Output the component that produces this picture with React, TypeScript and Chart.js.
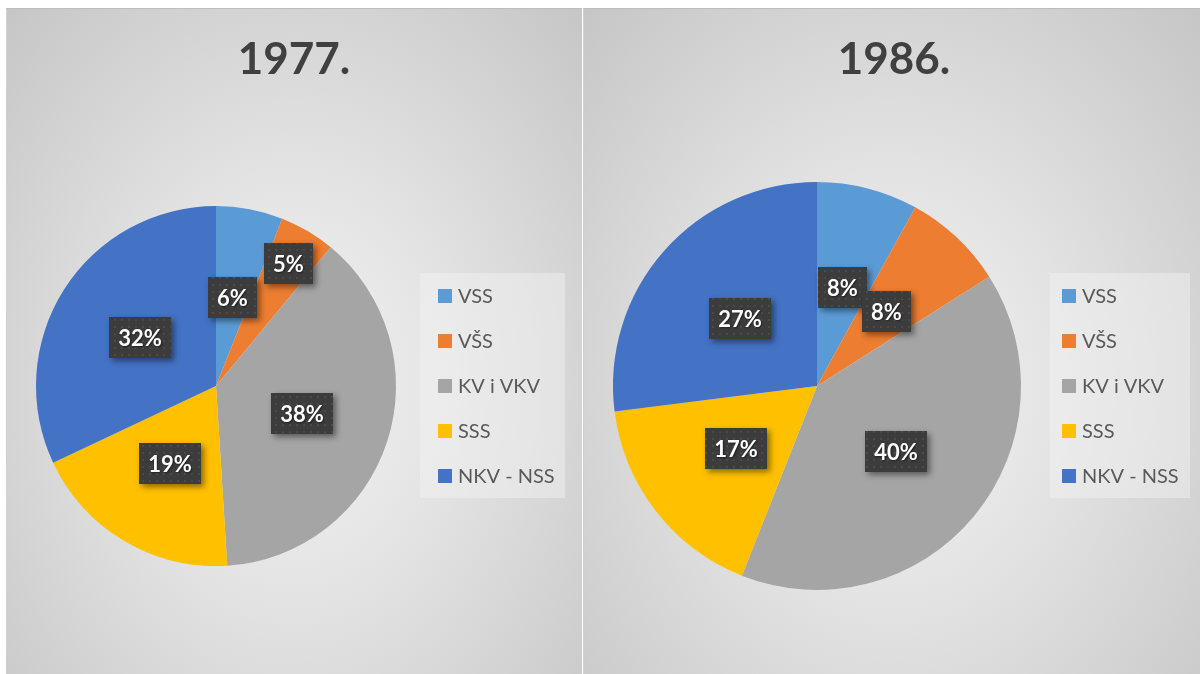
import React, { useEffect, useRef, useState } from "react";
import { Chart, registerables } from "chart.js";

Chart.register(...registerables);

// ---- data ----
const categories = ["VSS", "VŠS", "KV i VKV", "SSS", "NKV - NSS"];
const values1977 = [6, 5, 38, 19, 32];
const values1986 = [8, 8, 40, 17, 27];
const titles = ["1977.", "1986."];
const sliceColors = ["#5B9BD5", "#ED7D31", "#A5A5A5", "#FFC000", "#4472C4"];

const FONT = "Lato, 'Open Sans', sans-serif";

function makePattern(ctx: CanvasRenderingContext2D) {
  const c = document.createElement("canvas");
  c.width = 7;
  c.height = 7;
  const p = c.getContext("2d");
  if (!p) return null;
  p.fillStyle = "#3c3c3c";
  p.fillRect(0, 0, 7, 7);
  p.fillStyle = "#4a4a4a";
  p.fillRect(3, 3, 2, 2);
  return ctx.createPattern(c, "repeat");
}

type Cfg = {
  title: string;
  titleX: number;
  titleY: number;
  legend: { x: number; y: number; w: number; h: number; boxX: number; firstY: number; step: number };
  labelRadius: number[];
};

function makeDecorPlugin(cfg: Cfg) {
  return {
    id: "decor",
    afterDatasetsDraw(chart: any) {
      const ctx: CanvasRenderingContext2D = chart.ctx;
      ctx.save();
      // title
      ctx.font = `bold 44px ${FONT}`;
      ctx.fillStyle = "#404040";
      ctx.textAlign = "center";
      ctx.textBaseline = "alphabetic";
      ctx.fillText(cfg.title, cfg.titleX, cfg.titleY);

      // legend
      const lg = cfg.legend;
      ctx.fillStyle = "rgba(244,244,244,0.45)";
      ctx.fillRect(lg.x, lg.y, lg.w, lg.h);
      const labels: string[] = chart.data.labels;
      const bg: string[] = chart.data.datasets[0].backgroundColor;
      ctx.font = `20px ${FONT}`;
      ctx.textAlign = "left";
      ctx.textBaseline = "middle";
      labels.forEach((lab, i) => {
        const cy = lg.firstY + i * lg.step;
        ctx.fillStyle = bg[i];
        ctx.fillRect(lg.boxX, cy - 7, 14, 14);
        ctx.fillStyle = "#595959";
        ctx.fillText(lab, lg.boxX + 20, cy + 1);
      });

      // data labels
      const pattern = makePattern(ctx);
      const meta = chart.getDatasetMeta(0);
      const data: number[] = chart.data.datasets[0].data;
      ctx.font = `bold 22px ${FONT}`;
      ctx.textAlign = "center";
      meta.data.forEach((arc: any, i: number) => {
        const p = arc.getProps(["x", "y", "startAngle", "endAngle", "outerRadius"], true);
        const mid = (p.startAngle + p.endAngle) / 2;
        const f = cfg.labelRadius[i];
        const cx = p.x + Math.cos(mid) * p.outerRadius * f;
        const cy = p.y + Math.sin(mid) * p.outerRadius * f;
        const text = `${data[i]}%`;
        const w = Math.round(ctx.measureText(text).width + 18);
        const h = 41;
        const bx = Math.round(cx - w / 2);
        const by = Math.round(cy - h / 2);
        ctx.save();
        ctx.shadowColor = "rgba(0,0,0,0.45)";
        ctx.shadowBlur = 6;
        ctx.shadowOffsetX = 3;
        ctx.shadowOffsetY = 3;
        ctx.fillStyle = "#3c3c3c";
        ctx.fillRect(bx, by, w, h);
        ctx.restore();
        if (pattern) {
          ctx.fillStyle = pattern;
          ctx.fillRect(bx, by, w, h);
        }
        ctx.save();
        ctx.shadowColor = "rgba(0,0,0,0.5)";
        ctx.shadowBlur = 2;
        ctx.shadowOffsetX = 1;
        ctx.shadowOffsetY = 1;
        ctx.fillStyle = "#ffffff";
        ctx.fillText(text, bx + w / 2, by + h / 2 + 1);
        ctx.restore();
      });
      ctx.restore();
    },
  };
}

type PanelProps = {
  values: number[];
  title: string;
  left: number;
  width: number;
  padding: { left: number; right: number; top: number; bottom: number };
  titleX: number;
  legend: Cfg["legend"];
  labelRadius: number[];
};

// panels are fixed to the viewport
const TOP = 8;
const HEIGHT = 666;

function PiePanel(props: PanelProps) {
  const ref = useRef<HTMLCanvasElement>(null);
  const [err, setErr] = useState("");
  useEffect(() => {
    let chart: any = null;
    try {
      chart = new Chart(ref.current as HTMLCanvasElement, {
        type: "pie",
        data: {
          labels: categories,
          datasets: [
            {
              data: props.values,
              backgroundColor: sliceColors,
              borderWidth: 0,
            },
          ],
        },
        options: {
          responsive: false,
          animation: false,
          layout: { padding: props.padding },
          plugins: {
            legend: { display: false },
            tooltip: { enabled: false },
          },
        },
        plugins: [
          makeDecorPlugin({
            title: props.title,
            titleX: props.titleX,
            titleY: 66,
            legend: props.legend,
            labelRadius: props.labelRadius,
          }),
        ],
      });
    } catch (e: any) {
      setErr(String(e && e.stack ? e.stack : e));
    }
    return () => {
      if (chart) chart.destroy();
    };
  }, []);
  return (
    <React.Fragment>
      <div
        style={{
          position: "fixed",
          left: props.left,
          top: TOP,
          width: props.width,
          height: HEIGHT,
          boxSizing: "border-box",
          borderTop: "1px solid #bdbdbd",
          borderLeft: "1px solid #cfcfcf",
          background:
            "radial-gradient(ellipse farthest-corner at 50% 57%, #f3f3f3 0%, #e3e3e3 40%, #c6c6c6 100%)",
        }}
      />
      <canvas
        ref={ref}
        width={props.width}
        height={HEIGHT}
        style={{ position: "fixed", left: props.left, top: TOP, width: props.width, height: HEIGHT }}
      />
      {err ? (
        <pre style={{ position: "fixed", left: props.left, top: 20, fontSize: 10, color: "red", whiteSpace: "pre-wrap", width: props.width }}>{err}</pre>
      ) : null}
    </React.Fragment>
  );
}

export default function App() {
  return (
    <div style={{ width: 1184, height: 650 }}>
      <PiePanel
        values={values1977}
        title={titles[0]}
        left={6}
        width={576}
        padding={{ left: 30, right: 186, top: 198, bottom: 108 }}
        titleX={288}
        legend={{ x: 414, y: 265, w: 145, h: 225, boxX: 432, firstY: 288, step: 45 }}
        labelRadius={[0.5, 0.79, 0.5, 0.5, 0.5]}
      />
      <PiePanel
        values={values1986}
        title={titles[1]}
        left={583}
        width={617}
        padding={{ left: 30, right: 179, top: 174, bottom: 84 }}
        titleX={311}
        legend={{ x: 467, y: 265, w: 140, h: 225, boxX: 479, firstY: 288, step: 45 }}
        labelRadius={[0.5, 0.5, 0.5, 0.5, 0.5]}
      />
    </div>
  );
}
